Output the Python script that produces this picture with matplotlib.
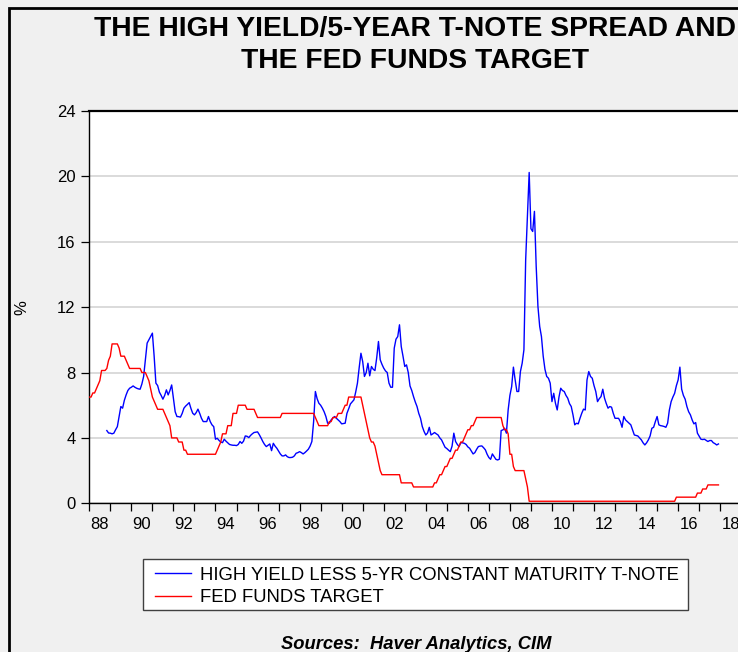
import matplotlib
matplotlib.use("Agg")
import matplotlib.pyplot as plt
from matplotlib.patches import Rectangle

plt.rcParams['font.family'] = ['Liberation Sans', 'DejaVu Sans']

# ---------------- data ----------------
title_lines = ["THE HIGH YIELD/5-YEAR T-NOTE SPREAD AND", "THE FED FUNDS TARGET"]
source = "Sources:  Haver Analytics, CIM"
spread_name = "HIGH YIELD LESS 5-YR CONSTANT MATURITY T-NOTE"
fed_name = "FED FUNDS TARGET"
y_label = "%"
y_ticks = [0, 4, 8, 12, 16, 20, 24]
x_label_years = list(range(1988, 2019, 2))
x_tick_labels = ["88", "90", "92", "94", "96", "98", "00", "02", "04", "06",
                 "08", "10", "12", "14", "16", "18"]

# monthly, starting Nov 1988
spread_start = (1988, 11)
spread = [
    4.45, 4.30,
    4.29, 4.25, 4.29, 4.50, 4.69, 5.30, 5.92, 5.82, 6.30, 6.63, 6.90, 7.04,
    7.10, 7.18, 7.10, 7.04, 7.00, 6.98, 7.30, 7.76, 8.80, 9.80, 10.00, 10.20,
    10.41, 9.00, 7.35, 7.20, 6.80, 6.60, 6.37, 6.60, 6.94, 6.63, 6.90, 7.24,
    6.40, 5.60, 5.31, 5.30, 5.27, 5.50, 5.82, 5.95, 6.05, 6.16, 5.80, 5.51,
    5.41, 5.55, 5.76, 5.50, 5.20, 5.00, 5.00, 5.00, 5.31, 5.00, 4.80, 4.69,
    3.92, 3.98, 3.85, 3.75, 3.71, 3.92, 3.80, 3.70, 3.60, 3.57, 3.55, 3.55,
    3.53, 3.60, 3.78, 3.67, 3.80, 4.12, 4.10, 4.02, 4.15, 4.25, 4.33, 4.35,
    4.37, 4.20, 4.00, 3.78, 3.60, 3.47, 3.55, 3.63, 3.22, 3.67, 3.50, 3.37,
    3.20, 3.02, 2.90, 2.90, 2.96, 2.85, 2.80, 2.80, 2.82, 2.90, 3.06, 3.10,
    3.16, 3.10, 3.02, 3.10, 3.20, 3.31, 3.50, 3.78, 5.00, 6.84, 6.40, 6.12,
    6.00, 5.82, 5.60, 5.31, 4.90, 4.90, 5.10, 5.22, 5.31, 5.20, 5.10, 5.00,
    4.86, 4.88, 4.90, 5.50, 5.78, 6.08, 6.20, 6.33, 6.80, 7.35, 8.30, 9.18,
    8.67, 7.76, 8.00, 8.57, 7.80, 8.37, 8.20, 8.12, 8.90, 9.90, 8.78, 8.50,
    8.27, 8.10, 8.00, 7.35, 7.10, 7.10, 9.49, 10.04, 10.20, 10.92, 9.59, 9.00,
    8.37, 8.47, 8.00, 7.18, 6.90, 6.53, 6.20, 5.92, 5.50, 5.20, 4.70, 4.40,
    4.18, 4.30, 4.65, 4.18, 4.25, 4.33, 4.25, 4.18, 4.00, 3.88, 3.65, 3.43,
    3.35, 3.25, 3.16, 3.50, 4.29, 3.78, 3.60, 3.47, 3.71, 3.70, 3.67, 3.60,
    3.45, 3.37, 3.20, 3.02, 3.10, 3.30, 3.47, 3.50, 3.51, 3.40, 3.27, 3.00,
    2.80, 2.69, 3.02, 2.85, 2.69, 2.65, 2.70, 4.45, 4.49, 4.59, 4.29, 5.71,
    6.60, 7.14, 8.33, 7.55, 6.84, 6.84, 8.06, 8.57, 9.39, 14.90, 17.55, 20.24,
    16.80, 16.63, 17.86, 14.50, 12.04, 10.82, 10.20, 9.00, 8.20, 7.76, 7.65, 7.35,
    6.22, 6.73, 6.12, 5.71, 6.50, 7.04, 6.90, 6.84, 6.60, 6.43, 6.10, 5.92,
    5.41, 4.80, 4.90, 4.86, 5.20, 5.51, 5.76, 5.71, 7.55, 8.06, 7.76, 7.65,
    7.20, 6.84, 6.22, 6.40, 6.53, 6.98, 6.43, 6.10, 5.82, 5.92, 5.88, 5.50,
    5.20, 5.20, 5.20, 5.00, 4.65, 5.31, 5.10, 5.00, 4.90, 4.80, 4.50, 4.18,
    4.15, 4.12, 4.00, 3.88, 3.70, 3.57, 3.70, 3.88, 4.12, 4.59, 4.65, 5.00,
    5.31, 4.80, 4.75, 4.73, 4.70, 4.65, 4.90, 5.71, 6.22, 6.50, 6.73, 7.20,
    7.55, 8.33, 6.98, 6.60, 6.37, 5.92, 5.60, 5.41, 5.10, 4.86, 4.94, 4.29,
    4.10, 3.92, 3.90, 3.92, 3.85, 3.78, 3.84, 3.84, 3.71, 3.65, 3.57, 3.63,
]

# monthly, starting Jan 1988
fed_start = (1988, 1)
fed_funds = (
    [6.5, 6.5, 6.75, 6.75, 7.0, 7.25, 7.5, 8.125, 8.125, 8.125, 8.25, 8.75]
    + [9.0, 9.75, 9.75, 9.75, 9.75, 9.5, 9.0, 9.0, 9.0, 8.75, 8.5, 8.25]
    + [8.25, 8.25, 8.25, 8.25, 8.25, 8.25, 8.0, 8.0, 8.0, 7.75, 7.5, 7.0]
    + [6.5, 6.25, 6.0, 5.75, 5.75, 5.75, 5.75, 5.5, 5.25, 5.0, 4.75, 4.0]
    + [4.0, 4.0, 4.0, 3.75, 3.75, 3.75, 3.25, 3.25, 3.0, 3.0, 3.0, 3.0]
    + [3.0] * 12
    + [3.0, 3.25, 3.5, 3.75, 4.25, 4.25, 4.25, 4.75, 4.75, 4.75, 5.5, 5.5]
    + [5.5, 6.0, 6.0, 6.0, 6.0, 6.0, 5.75, 5.75, 5.75, 5.75, 5.75, 5.5]
    + [5.25] * 12
    + [5.25, 5.25] + [5.5] * 10
    + [5.5] * 9 + [5.25, 5.0, 4.75]
    + [4.75] * 5 + [5.0, 5.0, 5.25, 5.25, 5.25, 5.5, 5.5]
    + [5.5, 5.75, 6.0, 6.0] + [6.5] * 8
    + [6.0, 5.5, 5.0, 4.5, 4.0, 3.75, 3.75, 3.5, 3.0, 2.5, 2.0, 1.75]
    + [1.75] * 10 + [1.25, 1.25]
    + [1.25] * 5 + [1.0] * 7
    + [1.0] * 5 + [1.25, 1.25, 1.5, 1.75, 1.75, 2.0, 2.25]
    + [2.25, 2.5, 2.75, 2.75, 3.0, 3.25, 3.25, 3.5, 3.75, 3.75, 4.0, 4.25]
    + [4.5, 4.5, 4.75, 4.75, 5.0] + [5.25] * 7
    + [5.25] * 8 + [4.75, 4.5, 4.5, 4.25]
    + [3.0, 3.0, 2.25] + [2.0] * 6 + [1.5, 1.0, 0.125]
    + [0.125] * 72
    + [0.125] * 11 + [0.375]
    + [0.375] * 11 + [0.625]
    + [0.625, 0.625, 0.875, 0.875, 0.875] + [1.125] * 7
)


def month_axis(start, n):
    y0, m0 = start
    return [y0 + (m0 - 1 + i) / 12.0 for i in range(n)]


x_spread = month_axis(spread_start, len(spread))
x_fed = month_axis(fed_start, len(fed_funds))

# ---------------- figure ----------------
W, H = 738, 652
fig = plt.figure(figsize=(W / 100, H / 100), dpi=100, facecolor="#f0f0f0")


def fx(px):
    return px / W


def fy(py):  # py measured from top
    return 1 - py / H


# outer frame (cut off at right/bottom like the reference)
fig.patches.append(Rectangle((fx(9), fy(700)), 1.2, (700 - 7.5) / H,
                             transform=fig.transFigure, fill=False,
                             edgecolor="black", linewidth=2.0, zorder=0))

px_per_year = 21.03
x0, y0, ytop = 89.3, 503.3, 111.0
ax = fig.add_axes([fx(x0), fy(y0), 31 * px_per_year / W, (y0 - ytop) / H])
ax.set_facecolor("white")
ax.set_xlim(1988, 2019)
ax.set_ylim(0, 24)

ax.plot(x_spread, spread, color="#0000ff", linewidth=1.0, label=spread_name, zorder=3)
ax.plot(x_fed, fed_funds, color="#ff0000", linewidth=1.0, label=fed_name, zorder=3)

# y axis
ax.set_yticks(y_ticks)
ax.set_yticklabels([str(v) for v in y_ticks])
ax.yaxis.grid(True, color="#d4d4d4", linewidth=1.2)
ax.set_axisbelow(True)
ax.tick_params(axis="y", direction="out", length=6, width=0.9, pad=4,
               labelsize=12, colors="black")
ax.set_ylabel(y_label, fontsize=12, labelpad=20)

# x axis: yearly tick marks, labels centred in even years
ax.set_xticks(list(range(1988, 2020)))
ax.set_xticklabels([])
ax.set_xticks([yr + 0.5 for yr in x_label_years], minor=True)
ax.set_xticklabels(x_tick_labels, minor=True)
ax.tick_params(axis="x", which="major", direction="out", length=6, width=0.9)
ax.tick_params(axis="x", which="minor", length=0, pad=10, labelsize=12)

ax.spines["right"].set_visible(False)
for s in ["left", "bottom", "top"]:
    ax.spines[s].set_color("black")
    ax.spines[s].set_linewidth(1.0)
ax.spines["top"].set_linewidth(1.6)

# title (two centred lines)
fig.text(fx(415), fy(36), title_lines[0], ha="center", va="baseline",
         fontsize=20.3, fontweight="bold")
fig.text(fx(415), fy(68.5), title_lines[1], ha="center", va="baseline",
         fontsize=20.3, fontweight="bold")

# legend: box drawn as a rectangle, entries laid out by the legend
fig.patches.append(Rectangle((fx(143.3), fy(610)), (688 - 143.3) / W, (610 - 559.3) / H,
                             transform=fig.transFigure, facecolor="white",
                             edgecolor="#404040", linewidth=1.0, zorder=1))
leg = fig.legend(loc="upper left", bbox_to_anchor=(fx(155), fy(566.5)),
                 fontsize=13.3, frameon=False,
                 handlelength=1.93, handletextpad=0.5, labelspacing=0.3,
                 borderpad=0.0, borderaxespad=0.0)
leg.set_zorder(2)

# source
fig.text(fx(416), fy(649), source, ha="center", va="baseline",
         fontsize=13.2, fontweight="bold", fontstyle="italic")

fig.savefig("out.png", dpi=100, facecolor=fig.get_facecolor())
